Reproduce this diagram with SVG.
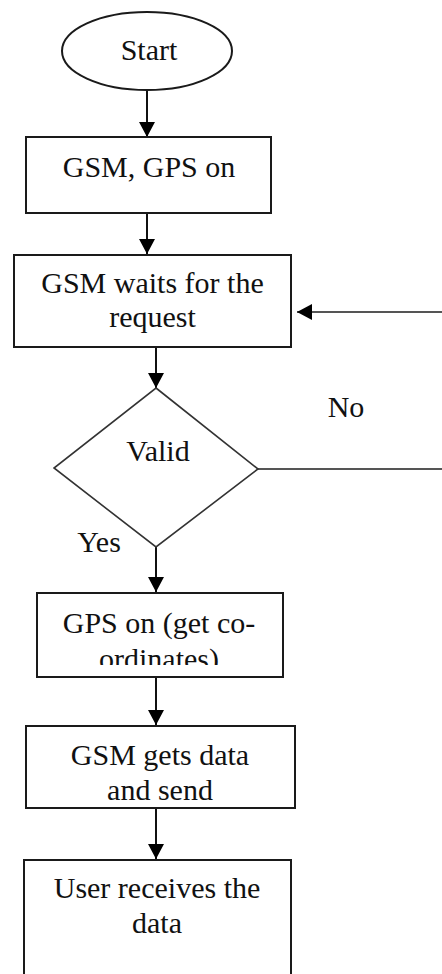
<svg xmlns="http://www.w3.org/2000/svg" width="442" height="974" viewBox="0 0 442 974">
  <style>
    .box { fill: #fff; stroke: #1a1a1a; stroke-width: 2; }
    .dec { fill: #fff; stroke: #333; stroke-width: 1.6; }
    .lbl { font-family: 'Liberation Serif', 'Times New Roman', serif; font-size: 30px; fill: #111; text-anchor: middle; }
    .edge { fill: none; stroke: #111; stroke-width: 2; }
    .loop { fill: none; stroke: #555; stroke-width: 2; }
  </style>
  <defs>
    <marker id="arrow" markerUnits="userSpaceOnUse" markerWidth="16" markerHeight="16" viewBox="0 0 16 16" refX="15" refY="8" orient="auto">
      <path d="M0,0 L15,8 L0,16 z" fill="#000"/>
    </marker>
    <!-- the second line of the GPS step is cut off by its box -->
    <clipPath id="clipGps">
      <rect x="37" y="593" width="246" height="72"/>
    </clipPath>
  </defs>

  <rect width="442" height="974" fill="#fff"/>

  <!-- connectors -->
  <g id="connectors">
    <path class="edge" d="M147,90 V137" marker-end="url(#arrow)"/>
    <path class="edge" d="M147,213 V254" marker-end="url(#arrow)"/>
    <path class="edge" d="M156,347 V388" marker-end="url(#arrow)"/>
    <path class="edge" d="M156,547 V592" marker-end="url(#arrow)"/>
    <path class="edge" d="M156,677 V725" marker-end="url(#arrow)"/>
    <path class="edge" d="M156,808 V859" marker-end="url(#arrow)"/>
    <!-- "No" branch loops back to the waiting step -->
    <path class="loop" d="M258,469 H452 V312 H297" marker-end="url(#arrow)"/>
    <text class="lbl" x="346" y="417">No</text>
    <text class="lbl" x="99" y="552">Yes</text>
  </g>

  <g id="start">
    <ellipse class="box" cx="147" cy="51" rx="85" ry="39"/>
    <text class="lbl" x="149" y="60">Start</text>
  </g>

  <g id="power-on">
    <rect class="box" x="26" y="137" width="245" height="76"/>
    <text class="lbl" x="149" y="177">GSM, GPS on</text>
  </g>

  <g id="wait-request">
    <rect class="box" x="14" y="255" width="277" height="92"/>
    <text class="lbl" x="152.5" y="293">GSM waits for the</text>
    <text class="lbl" x="152.5" y="327">request</text>
  </g>

  <g id="valid">
    <polygon class="dec" points="156,388 258,469 156,547 54,468"/>
    <text class="lbl" x="158" y="461">Valid</text>
  </g>

  <g id="get-coords">
    <rect class="box" x="37" y="593" width="246" height="84"/>
    <g clip-path="url(#clipGps)">
      <text class="lbl" x="159" y="633">GPS on (get co-</text>
      <text class="lbl" x="159" y="669">ordinates)</text>
    </g>
  </g>

  <g id="send-data">
    <rect class="box" x="26" y="726" width="269" height="82"/>
    <text class="lbl" x="160" y="765">GSM gets data</text>
    <text class="lbl" x="160" y="800">and send</text>
  </g>

  <g id="user-receives">
    <rect class="box" x="24" y="860" width="267" height="140"/>
    <text class="lbl" x="157" y="898">User receives the</text>
    <text class="lbl" x="157" y="933">data</text>
  </g>
</svg>
